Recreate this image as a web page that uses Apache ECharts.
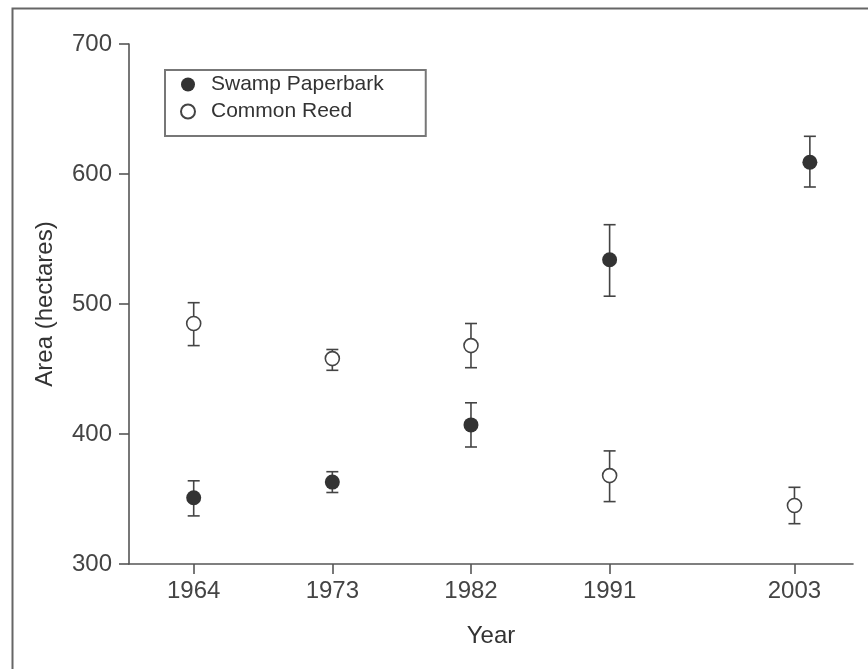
<!DOCTYPE html>
<html>
<head>
<meta charset="utf-8">
<script src="https://cdn.jsdelivr.net/npm/echarts@6/dist/echarts.min.js"></script>
<style>
html,body{margin:0;padding:0;background:#fff;}
#chart{width:868px;height:669px;}
</style>
</head>
<body>
<div id="chart"></div>
<script>
// ---- data ----
var years = [1964, 1973, 1982, 1991, 2003];
var paperbarkYears = [1964, 1973, 1982, 1991, 2004];
var paperbark = [351, 363, 407, 534, 609];
var paperbarkLow = [337, 355, 390, 506, 590];
var paperbarkHigh = [364, 371, 424, 561, 629];
var reedYears = [1964, 1973, 1982, 1991, 2003];
var reed = [485, 458, 468, 368, 345];
var reedLow = [468, 449, 451, 348, 331];
var reedHigh = [501, 465, 485, 387, 359];
var yTicks = [300, 400, 500, 600, 700];

var FONT = '"Liberation Sans", Arial, Helvetica, sans-serif';
var AX = '#555';

function zip(xs, ys) { return xs.map(function (x, i) { return [x, ys[i]]; }); }
function zipErr(xs, lo, hi) { return xs.map(function (x, i) { return [x, lo[i], hi[i]]; }); }

function errRender(params, api) {
  var x = api.value(0);
  var lo = api.coord([x, api.value(1)]);
  var hi = api.coord([x, api.value(2)]);
  var hw = 6;
  var st = { stroke: '#444', lineWidth: 1.6 };
  return {
    type: 'group',
    children: [
      { type: 'line', shape: { x1: lo[0], y1: lo[1], x2: hi[0], y2: hi[1] }, style: st },
      { type: 'line', shape: { x1: lo[0] - hw, y1: lo[1], x2: lo[0] + hw, y2: lo[1] }, style: st },
      { type: 'line', shape: { x1: hi[0] - hw, y1: hi[1], x2: hi[0] + hw, y2: hi[1] }, style: st }
    ]
  };
}

var chart = echarts.init(document.getElementById('chart'), null, { renderer: 'canvas' });
chart.setOption({
  animation: false,
  backgroundColor: '#fff',
  textStyle: { fontFamily: FONT },
  graphic: [{
    type: 'rect', left: 10, top: 6,
    shape: { width: 900, height: 700 },
    style: { fill: 'none', stroke: '#666', lineWidth: 2 },
    silent: true, z: -1
  }],
  grid: { left: 129, right: 15, top: 44, bottom: 105, containLabel: false },
  legend: {
    data: ['Swamp Paperbark', 'Common Reed'],
    orient: 'vertical',
    left: 165, top: 70,
    padding: [4, 42, 14, 15],
    itemGap: 6,
    itemWidth: 14, itemHeight: 14,
    icon: 'circle',
    borderColor: '#777', borderWidth: 2,
    textStyle: { fontFamily: FONT, fontSize: 21, color: '#333', padding: [0, 0, 0, 11] }
  },
  xAxis: {
    type: 'value', min: 1959.8, max: 2006.8,
    name: 'Year', nameLocation: 'middle', nameGap: 60,
    nameTextStyle: { fontFamily: FONT, fontSize: 24, color: '#333' },
    axisLine: { show: true, lineStyle: { color: AX, width: 1.6 } },
    axisTick: { show: true, length: 10, customValues: years, lineStyle: { color: AX, width: 1.6 } },
    axisLabel: { customValues: years, margin: 15, fontSize: 24, color: '#444', fontFamily: FONT,
      formatter: function (v) { return String(v); } },
    splitLine: { show: false }
  },
  yAxis: {
    type: 'value', min: 300, max: 700, interval: 100,
    name: 'Area (hectares)', nameLocation: 'middle', nameGap: 72, nameRotate: 90,
    nameTextStyle: { fontFamily: FONT, fontSize: 24, color: '#333' },
    axisLine: { show: true, lineStyle: { color: AX, width: 1.6 } },
    axisTick: { show: true, length: 10, customValues: yTicks, lineStyle: { color: AX, width: 1.6 } },
    axisLabel: { customValues: yTicks, margin: 17, fontSize: 24, color: '#444', fontFamily: FONT },
    splitLine: { show: false }
  },
  series: [
    { type: 'custom', name: 'pb-err', renderItem: errRender, data: zipErr(paperbarkYears, paperbarkLow, paperbarkHigh), z: 1, silent: true },
    { type: 'custom', name: 'cr-err', renderItem: errRender, data: zipErr(reedYears, reedLow, reedHigh), z: 1, silent: true },
    {
      type: 'scatter', name: 'Swamp Paperbark', data: zip(paperbarkYears, paperbark),
      symbol: 'circle', symbolSize: 15, z: 5,
      itemStyle: { color: '#333', borderColor: '#333', borderWidth: 0, opacity: 1 }
    },
    {
      type: 'scatter', name: 'Common Reed', data: zip(reedYears, reed),
      symbol: 'circle', symbolSize: 14, z: 5,
      itemStyle: { color: '#fff', borderColor: '#444', borderWidth: 1.6, opacity: 1 }
    }
  ]
});
</script>
</body>
</html>
